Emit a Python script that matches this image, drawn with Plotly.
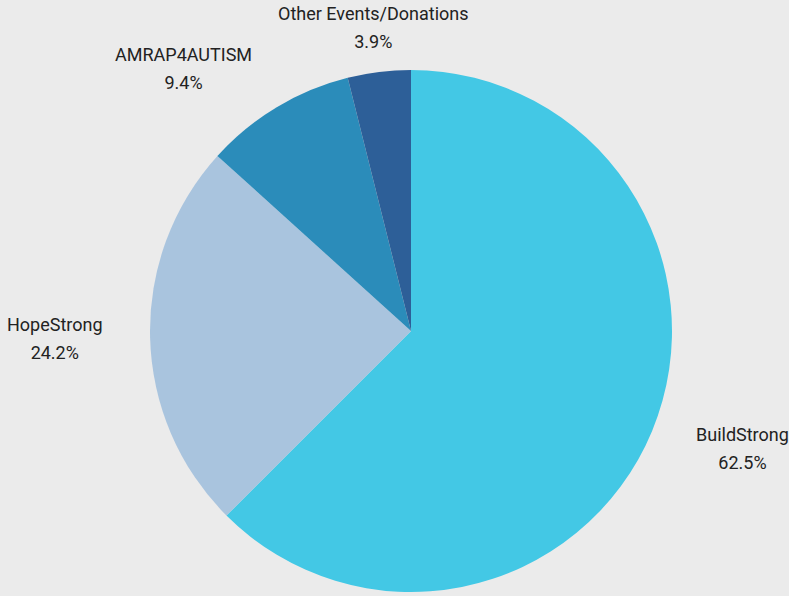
import math
import plotly.graph_objects as go

labels = ["BuildStrong", "HopeStrong", "AMRAP4AUTISM", "Other Events/Donations"]
values = [62.5, 24.2, 9.4, 3.9]
colors = ["#43C8E5", "#A9C4DE", "#2B8CBA", "#2D5F98"]

W, H = 789, 596
CX, CY, R = 411, 331, 261     # pie centre / radius in pixels
LABEL_R = 306                 # distance of label anchor from centre

fig = go.Figure(go.Pie(
    labels=labels,
    values=values,
    sort=False,
    direction="clockwise",
    rotation=0,
    marker=dict(colors=colors, line=dict(width=0)),
    textinfo="none",
    hoverinfo="label+percent",
    showlegend=False,
    domain=dict(x=[(CX - R) / W, (CX + R) / W], y=[(H - CY - R) / H, (H - CY + R) / H]),
))

total = sum(values)
cum = 0.0
for lab, v in zip(labels, values):
    mid = (cum + v / 2) / total * 2 * math.pi
    cum += v
    s, c = math.sin(mid), math.cos(mid)
    px = CX + LABEL_R * s
    py = CY - LABEL_R * c
    if s > 0.3:
        xa = "left"
    elif s < -0.3:
        xa = "right"
    else:
        xa = "center"
    pct = f"{v / total * 100:.1f}%"
    txt = (f'<span style="font-size:18px">{lab}</span><br>'
           f'<span style="font-size:18px">{pct}</span>')
    fig.add_annotation(
        x=px / W, y=1 - py / H, xref="paper", yref="paper",
        text=txt, showarrow=False, xanchor=xa, yanchor="middle",
        align="center", font=dict(family="Roboto", size=21.5, color="#222222"),
    )

fig.update_layout(
    width=W, height=H,
    paper_bgcolor="#EBEBEB",
    plot_bgcolor="#EBEBEB",
    margin=dict(l=0, r=0, t=0, b=0),
)

fig.write_html("out.html", config={"displayModeBar": False},
               post_script="document.body.style.margin='0';")
